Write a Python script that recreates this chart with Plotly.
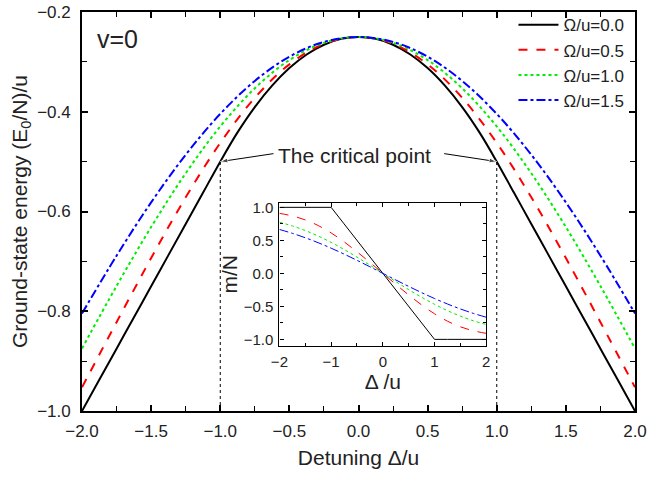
import plotly.graph_objects as go

# ---- data ----
delta = [-2.0, -1.75, -1.5, -1.25, -1.0, -0.75, -0.5, -0.25, 0.0,
         0.25, 0.5, 0.75, 1.0, 1.25, 1.5, 1.75, 2.0]

delta_fine = [-2.0, -1.875, -1.75, -1.625, -1.5, -1.375, -1.25, -1.125, -1.0,
              -0.875, -0.75, -0.625, -0.5, -0.375, -0.25, -0.125, 0.0,
              0.125, 0.25, 0.375, 0.5, 0.625, 0.75, 0.875, 1.0,
              1.125, 1.25, 1.375, 1.5, 1.625, 1.75, 1.875, 2.0]
E_omega_00 = [-1.0, -0.9375, -0.875, -0.8125, -0.75, -0.6875, -0.625, -0.5625, -0.5,
              -0.4414, -0.3906, -0.3477, -0.3125, -0.2852, -0.2656, -0.2539, -0.25,
              -0.2539, -0.2656, -0.2852, -0.3125, -0.3477, -0.3906, -0.4414, -0.5,
              -0.5625, -0.625, -0.6875, -0.75, -0.8125, -0.875, -0.9375, -1.0]
E_omega_05 = [-0.9525, -0.8219, -0.6934, -0.5716, -0.4625, -0.3721, -0.3050, -0.2639, -0.25,
              -0.2639, -0.3050, -0.3721, -0.4625, -0.5716, -0.6934, -0.8219, -0.9525]
E_omega_10 = [-0.8747, -0.7494, -0.6312, -0.5234, -0.4295, -0.3530, -0.2964, -0.2617, -0.25,
              -0.2617, -0.2964, -0.3530, -0.4295, -0.5234, -0.6312, -0.7494, -0.8747]
E_omega_15 = [-0.8044, -0.6886, -0.5818, -0.4862, -0.4043, -0.3382, -0.2896, -0.2600, -0.25,
              -0.2600, -0.2896, -0.3382, -0.4043, -0.4862, -0.5818, -0.6886, -0.8044]

m_omega_00 = [1.0, 1.0, 1.0, 1.0, 1.0, 0.75, 0.5, 0.25, 0.0,
              -0.25, -0.5, -0.75, -1.0, -1.0, -1.0, -1.0, -1.0]
m_omega_05 = [0.9091, 0.8696, 0.8098, 0.7245, 0.6125, 0.4779, 0.3270, 0.1659, 0.0,
              -0.1659, -0.3270, -0.4779, -0.6125, -0.7245, -0.8098, -0.8696, -0.9091]
m_omega_10 = [0.7747, 0.7181, 0.6484, 0.5651, 0.4690, 0.3618, 0.2461, 0.1245, 0.0,
              -0.1245, -0.2461, -0.3618, -0.4690, -0.5651, -0.6484, -0.7181, -0.7747]
m_omega_15 = [0.6649, 0.6063, 0.5393, 0.4641, 0.3814, 0.2920, 0.1976, 0.0997, 0.0,
              -0.0997, -0.1976, -0.2920, -0.3814, -0.4641, -0.5393, -0.6063, -0.6649]

series_names = ["Ω/u=0.0", "Ω/u=0.5", "Ω/u=1.0", "Ω/u=1.5"]
critical_delta = [-1.0, 1.0]
critical_E = [E_omega_00[delta_fine.index(d)] for d in critical_delta]

main_x_ticks = [-2.0, -1.5, -1.0, -0.5, 0.0, 0.5, 1.0, 1.5, 2.0]
main_y_ticks = [-1.0, -0.8, -0.6, -0.4, -0.2]
inset_x_ticks = [-2, -1, 0, 1, 2]
inset_y_ticks = [-1.0, -0.5, 0.0, 0.5, 1.0]

# annotation layout (label position and arrow tails, in data units)
label_pos = (-0.03, -0.487)
arrow_tails = [(-0.615, -0.484), (0.62, -0.484)]

# ---- styles ----
colors = ["#000000", "#ff0000", "#00ee00", "#0000ff"]
dashes = ["solid", "dash", "dot", "dashdot"]
FONT = "Liberation Sans, Arial, sans-serif"

fig = go.Figure()

E_x = [delta_fine, delta, delta, delta]
E_all = [E_omega_00, E_omega_05, E_omega_10, E_omega_15]
m_all = [m_omega_00, m_omega_05, m_omega_10, m_omega_15]

for name, xs, E, c, d in zip(series_names, E_x, E_all, colors, dashes):
    fig.add_trace(go.Scatter(x=xs, y=E, mode="lines", name=name,
                             line=dict(color=c, dash=d, width=2, shape="spline", smoothing=1.0),
                             xaxis="x", yaxis="y"))

for i, (m, c, d) in enumerate(zip(m_all, colors, dashes)):
    shape = "linear" if i == 0 else "spline"
    fig.add_trace(go.Scatter(x=delta, y=m, mode="lines", showlegend=False,
                             line=dict(color=c, dash=d, width=1, shape=shape),
                             xaxis="x2", yaxis="y2"))

# dotted vertical lines at the critical points
for xd, yd in zip(critical_delta, critical_E):
    fig.add_shape(type="line", xref="x", yref="y", x0=xd, x1=xd, y0=-1.0, y1=yd,
                  line=dict(color="black", width=1, dash="dot"))

# arrows from the label to the critical points
for (tx, ty), xd, yd in zip(arrow_tails, critical_delta, critical_E):
    fig.add_trace(go.Scatter(x=[tx, xd], y=[ty, yd], mode="lines+markers", showlegend=False,
                             hoverinfo="skip",
                             line=dict(color="black", width=1),
                             marker=dict(symbol=["circle", "arrow"], size=[0, 8],
                                         angleref="previous", color="black"),
                             xaxis="x", yaxis="y"))

fig.add_annotation(x=label_pos[0], y=label_pos[1], xref="x", yref="y", text="The critical point",
                   xanchor="center", yanchor="middle",
                   showarrow=False, font=dict(family=FONT, size=21, color="#222"))
fig.add_annotation(x=0.065, y=0.933, xref="paper", yref="paper", text="v=0",
                   xanchor="center", yanchor="middle",
                   showarrow=False, font=dict(family=FONT, size=25, color="#222"))

axis_common = dict(showline=True, linecolor="black", mirror="allticks", ticks="inside",
                   showgrid=False, zeroline=False, tickcolor="black", automargin=False)

fig.update_layout(
    width=648, height=478,
    margin=dict(l=82, r=13, t=12, b=67, autoexpand=False),
    paper_bgcolor="white", plot_bgcolor="white",
    font=dict(family=FONT, size=17, color="#222"),
    xaxis=dict(**axis_common, domain=[0, 1], range=[-2.0, 2.0], tickvals=main_x_ticks,
               tickformat=".1f", ticklen=6, tickwidth=1.5, linewidth=1.8,
               minor=dict(dtick=0.25, ticks="inside", ticklen=5, tickcolor="black", tickwidth=1.2),
               tickfont=dict(size=17), ticklabelstandoff=4,
               title=dict(text="Detuning Δ/u", font=dict(size=21), standoff=10)),
    yaxis=dict(**axis_common, domain=[0, 1], range=[-1.0, -0.2], tickvals=main_y_ticks,
               tickformat=".1f", ticklen=6, tickwidth=1.5, linewidth=1.8,
               minor=dict(dtick=0.1, ticks="inside", ticklen=5, tickcolor="black", tickwidth=1.2),
               tickfont=dict(size=17), ticklabelstandoff=6,
               title=dict(text="Ground-state energy (E<sub>0</sub>/N)/u", font=dict(size=21), standoff=4)),
    xaxis2=dict(**axis_common, domain=[0.357, 0.731], anchor="y2", range=[-2, 2],
                tickvals=inset_x_ticks, ticklen=4, linewidth=1.2,
                minor=dict(dtick=0.5, ticks="inside", ticklen=3, tickcolor="black"),
                tickfont=dict(size=15), ticklabelstandoff=2,
                title=dict(text="Δ /u", font=dict(size=21), standoff=2)),
    yaxis2=dict(**axis_common, domain=[0.163, 0.522], anchor="x2", range=[-1.1, 1.07],
                tickvals=inset_y_ticks, tickformat=".1f", ticklen=4, linewidth=1.2,
                minor=dict(dtick=0.25, ticks="inside", ticklen=3, tickcolor="black"),
                tickfont=dict(size=15), ticklabelstandoff=2,
                title=dict(text="m/N", font=dict(size=21), standoff=0)),
    legend=dict(x=0.99, y=1.012, xanchor="right", yanchor="top", bgcolor="rgba(0,0,0,0)",
                font=dict(size=17), tracegroupgap=0, itemwidth=40),
    showlegend=True,
)

fig.write_html("out.html", config={"displayModeBar": False},
               post_script="document.body.style.margin='0';")
